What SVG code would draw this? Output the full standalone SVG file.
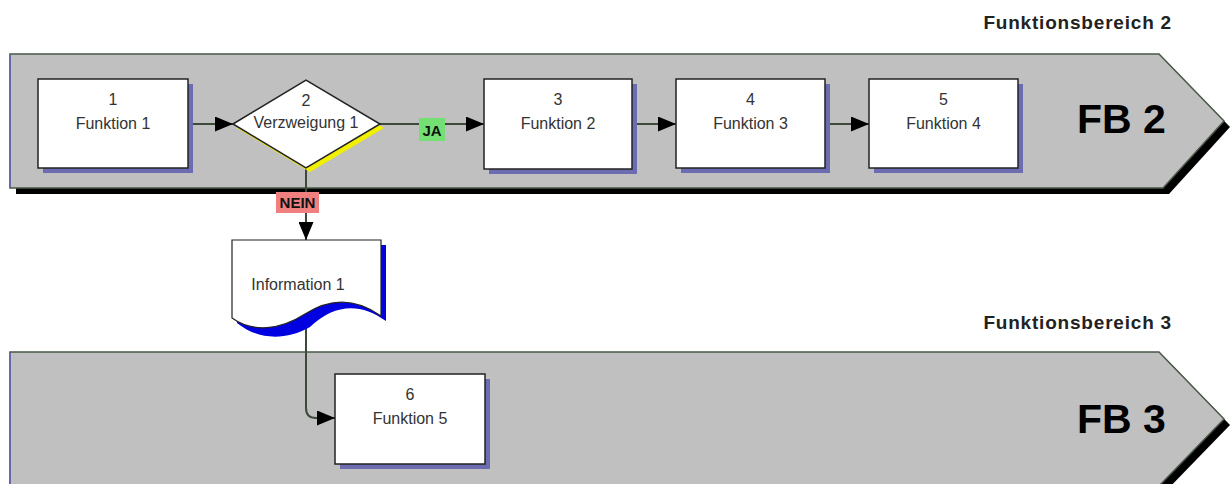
<svg xmlns="http://www.w3.org/2000/svg" width="1232" height="484" viewBox="0 0 1232 484">
<defs>
<marker id="ah" markerWidth="19" markerHeight="15" refX="18" refY="7.5" orient="auto" markerUnits="userSpaceOnUse">
<path d="M0,0 L18,7.5 L0,15 Z" fill="#000"/>
</marker>
<style>
.band{fill:#c0c0c0;stroke:#4a5848;stroke-width:1.5}
.bshadow{fill:#000}
.box{fill:#fff;stroke:#222;stroke-width:1.5}
.shadow{fill:#6c6cb0}
.t{font-family:"Liberation Sans",Arial,sans-serif;font-size:16px;fill:#333;text-anchor:middle}
.head{font-family:"Liberation Sans",Arial,sans-serif;font-size:19px;font-weight:bold;fill:#222;text-anchor:end;letter-spacing:0.8px}
.fb{font-family:"Liberation Sans",Arial,sans-serif;font-size:41px;font-weight:bold;fill:#000}
.lab{font-family:"Liberation Sans",Arial,sans-serif;font-size:15px;font-weight:bold;fill:#111;text-anchor:middle}
.con{fill:none;stroke:#3d4a3a;stroke-width:2}
</style>
</defs>
<rect width="1232" height="484" fill="#fff"/>

<g id="band-fb2">
<path class="bshadow" d="M16,60 L1165,60 L1230,127 L1169,194 L16,194 Z"/>
<path class="band" d="M10,54 L1159,54 L1224,121 L1163,188 L10,188 Z"/>
<line x1="10" y1="55" x2="10" y2="187" stroke="#6868a8" stroke-width="2"/>
<text class="head" x="1172" y="29">Funktionsbereich 2</text>
<text class="fb" x="1077" y="133">FB 2</text>
</g>

<g id="band-fb3">
<path class="bshadow" d="M16,358 L1165,358 L1230,425 L1165,492 L16,492 Z"/>
<path class="band" d="M10,352 L1159,352 L1224,419 L1159,486 L10,486 Z"/>
<line x1="10" y1="353" x2="10" y2="484" stroke="#6868a8" stroke-width="2"/>
<text class="head" x="1172" y="329">Funktionsbereich 3</text>
<text class="fb" x="1077" y="433">FB 3</text>
</g>

<g id="connectors">
<path class="con" d="M188,124 L233,124" marker-end="url(#ah)"/>
<path class="con" d="M380,124 L484,124" marker-end="url(#ah)"/>
<path class="con" d="M632,124 L676,124" marker-end="url(#ah)"/>
<path class="con" d="M825,124 L869,124" marker-end="url(#ah)"/>
<path class="con" d="M306,168 L306,240" marker-end="url(#ah)"/>
<path class="con" d="M306,324 L306,408 Q306,418 316,418 L335,418" marker-end="url(#ah)"/>
<rect x="419" y="118" width="26" height="23" fill="#74e074"/>
<text class="lab" x="432" y="136">JA</text>
<rect x="276" y="192" width="43" height="21" fill="#f08080"/>
<text class="lab" x="297.5" y="208">NEIN</text>
</g>

<g id="node-1">
<rect class="shadow" x="43" y="84" width="150" height="89"/>
<rect class="box" x="38" y="79" width="150" height="89"/>
<text class="t" x="113" y="105">1</text>
<text class="t" x="113" y="129">Funktion 1</text>
</g>

<g id="node-2">
<path d="M237,128 L310,84 L384,128 L310,172 Z" fill="#f0f000"/>
<path d="M233,124 L306,80 L380,124 L306,168 Z" fill="#fff" stroke="#222" stroke-width="1.5"/>
<text class="t" x="306" y="106">2</text>
<text class="t" x="306" y="128">Verzweigung 1</text>
</g>

<g id="node-3">
<rect class="shadow" x="489" y="84" width="148" height="90"/>
<rect class="box" x="484" y="79" width="148" height="90"/>
<text class="t" x="558" y="105">3</text>
<text class="t" x="558" y="129">Funktion 2</text>
</g>

<g id="node-4">
<rect class="shadow" x="681" y="84" width="149" height="89"/>
<rect class="box" x="676" y="79" width="149" height="89"/>
<text class="t" x="750.5" y="105">4</text>
<text class="t" x="750.5" y="129">Funktion 3</text>
</g>

<g id="node-5">
<rect class="shadow" x="874" y="84" width="149" height="89"/>
<rect class="box" x="869" y="79" width="149" height="89"/>
<text class="t" x="943.5" y="105">5</text>
<text class="t" x="943.5" y="129">Funktion 4</text>
</g>

<g id="info-1">
<path d="M237,245 L386,245 L386,321 C361,303 335,303 310,327 C285,341 258,340 237,323 Z" fill="#0000e0"/>
<path d="M232,240 L381,240 L381,316 C356,298 330,298 305,314 C280,330 253,333 232,318 Z" fill="#fff" stroke="#222" stroke-width="1.2"/>
<text class="t" x="298" y="290">Information 1</text>
</g>

<g id="node-6">
<rect class="shadow" x="340" y="379" width="150" height="90"/>
<rect class="box" x="335" y="374" width="150" height="90"/>
<text class="t" x="410" y="400">6</text>
<text class="t" x="410" y="424">Funktion 5</text>
</g>
</svg>
